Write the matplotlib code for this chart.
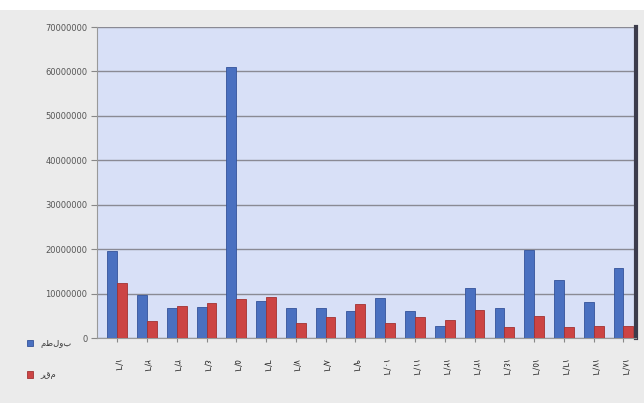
import matplotlib
matplotlib.use("Agg")
import matplotlib.pyplot as plt
import numpy as np

categories = ["١/٦", "٢/٦", "٣/٦", "٤/٦", "٥/٦", "٦/٦", "٧/٦", "٨/٦", "٩/٦",
              "١٠/٦", "١١/٦", "١٢/٦", "١٣/٦", "١٤/٦", "١٥/٦", "١٦/٦", "١٧/٦", "١٨/٦"]
series_names = ["مطلوب", "رقم"]
blue_values = [19600000, 9800000, 6800000, 7100000, 61000000, 8300000, 6800000, 6800000, 6000000,
               9000000, 6200000, 2700000, 11200000, 6800000, 19800000, 13100000, 8100000, 15700000]
red_values = [12500000, 3800000, 7200000, 7800000, 8800000, 9200000, 3300000, 4700000, 7600000,
              3500000, 4700000, 4000000, 6400000, 2500000, 4900000, 2500000, 2700000, 2700000]
y_ticks = [0, 10000000, 20000000, 30000000, 40000000, 50000000, 60000000, 70000000]

plt.rcParams['font.family'] = ['DejaVu Sans']

fig = plt.figure(figsize=(6.44, 4.03), dpi=100, facecolor="#ebebeb")
fig.patches.append(plt.Rectangle((0, 0.975), 1, 0.025, transform=fig.transFigure,
                                 facecolor="white", edgecolor="none", zorder=0))

ax = fig.add_axes([0.151, 0.161, 0.837, 0.772])
ax.set_facecolor("#d8e0f7")

x = np.arange(len(categories))
w = 0.33
ax.bar(x - w / 2, blue_values, width=w, color="#4a70c0", edgecolor="#34539a", linewidth=0.6,
       label=series_names[0], zorder=3)
ax.bar(x + w / 2, red_values, width=w, color="#cc4444", edgecolor="#a23232", linewidth=0.6,
       label=series_names[1], zorder=3)

ax.set_xlim(-0.67, len(categories) - 0.57)
ax.set_ylim(0, 70000000)
ax.set_yticks(y_ticks)
ax.set_yticklabels([str(v) for v in y_ticks], fontsize=6, color="#555555")
ax.yaxis.grid(True, color="#8a8a94", linewidth=1.0, zorder=1)
ax.set_axisbelow(True)
ax.tick_params(axis="y", length=4, color="#888888", pad=3)
ax.set_xticks(x)
ax.set_xticklabels(categories, rotation=-90, fontsize=6.5, color="#333333")
ax.tick_params(axis="x", length=3, color="#888888", pad=12)

ax.spines["top"].set_visible(False)
ax.spines["left"].set_color("#999999")
ax.spines["bottom"].set_color("#999999")
ax.spines["right"].set_color("#3c3c4c")
ax.spines["right"].set_linewidth(3)

leg = fig.legend(loc="lower left", bbox_to_anchor=(0.03, 0.04), frameon=False, fontsize=6,
                 handlelength=0.8, handleheight=0.8, labelspacing=2.7, handletextpad=0.8)
for t in leg.get_texts():
    t.set_color("#333333")

fig.savefig("out.png", dpi=100, facecolor=fig.get_facecolor())
